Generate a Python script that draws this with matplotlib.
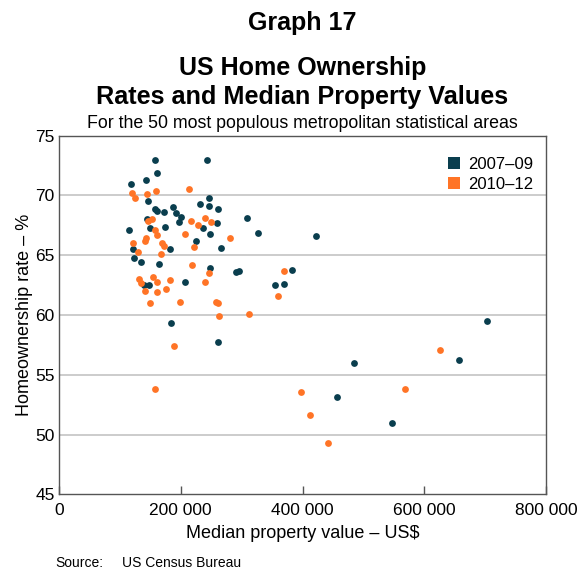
import matplotlib
matplotlib.use("Agg")
import matplotlib.pyplot as plt
from matplotlib.ticker import FuncFormatter
from matplotlib.lines import Line2D

plt.rcParams['font.family'] = ['Liberation Sans', 'DejaVu Sans']

# 2007-09: median property value (US$), home ownership rate (%)
x_0709 = [158500, 242600, 161500, 118300, 142100, 145400, 247200, 231100, 246900, 262000,
          186800, 157700, 160200, 172000, 192500, 199900, 196800, 145100, 259600, 308300,
          114200, 149200, 173800, 237000, 327400, 247600, 225400, 266600, 182300, 121200,
          122900, 134700, 164300, 247600, 290800, 296500, 382300, 355600, 370400, 207300,
          148200, 140100, 183700, 262000, 422500, 702600, 656600, 484600, 456200, 547000]
y_0709 = [73.0, 73.0, 71.9, 71.0, 71.3, 69.5, 69.8, 69.3, 69.1, 68.9,
          69.0, 68.9, 68.7, 68.6, 68.5, 68.2, 67.8, 68.0, 67.7, 68.1,
          67.1, 67.3, 67.4, 67.3, 66.9, 66.8, 66.2, 65.6, 65.5, 65.5,
          64.8, 64.4, 64.3, 63.9, 63.6, 63.7, 63.8, 62.5, 62.6, 62.8,
          62.5, 62.5, 59.3, 57.7, 66.6, 59.5, 56.2, 56.0, 53.1, 51.0]

# 2010-12
x_1012 = [119900, 124500, 144100, 158900, 213200, 147000, 152800, 216500, 239800, 250500,
          228000, 157200, 160500, 206200, 142600, 140900, 121200, 168900, 172500, 280100,
          222300, 130300, 167600, 219000, 245900, 131400, 134700, 155200, 161800, 182000,
          239800, 140800, 160200, 175000, 149500, 198400, 257400, 261200, 262300, 312600,
          368800, 360100, 188100, 157200, 625400, 568900, 397000, 411800, 441400]
y_1012 = [70.2, 69.8, 70.1, 70.4, 70.5, 67.9, 68.0, 67.9, 68.1, 67.8,
          67.5, 67.1, 66.7, 66.8, 66.4, 66.2, 66.0, 66.0, 65.8, 66.4,
          65.7, 65.3, 65.1, 64.2, 63.5, 63.0, 62.7, 63.2, 62.8, 62.9,
          62.8, 62.0, 61.9, 62.2, 61.0, 61.1, 61.1, 61.0, 59.9, 60.1,
          63.7, 61.6, 57.4, 53.8, 57.1, 53.8, 53.6, 51.6, 49.3]

series_labels = ['2007–09', '2010–12']
x_ticks = [0, 200000, 400000, 600000, 800000]
y_ticks = [45, 50, 55, 60, 65, 70, 75]

c_dark = '#0a3e4e'
c_orange = '#ff7426'

fig = plt.figure(figsize=(5.79, 5.74), dpi=100)
ax = fig.add_axes([59/579, 1 - 494.3/574, (546 - 59)/579, (494.3 - 135.7)/574])

ax.scatter(x_0709, y_0709, s=24, color=c_dark, linewidths=0, zorder=3)
ax.scatter(x_1012, y_1012, s=24, color=c_orange, linewidths=0, zorder=3)

ax.set_xlim(0, 800000)
ax.set_ylim(45, 75)
ax.set_xticks(x_ticks)
ax.set_yticks(y_ticks)

def fmt(v, pos):
    v = int(round(v))
    return f"{v:,}".replace(",", " ")

ax.xaxis.set_major_formatter(FuncFormatter(fmt))
ax.tick_params(axis='x', direction='in', length=6, width=1, color='#555555',
               labelsize=12.5, pad=6)
ax.tick_params(axis='y', length=0, labelsize=12.5, pad=3)

for y in [50, 55, 60, 65, 70]:
    ax.axhline(y, color='#c4c4c4', linewidth=1.2, zorder=1)

for sp in ax.spines.values():
    sp.set_color('#555555')
    sp.set_linewidth(1.0)

ax.set_xlabel('Median property value – US$', fontsize=13, labelpad=5)
ax.set_ylabel('Homeownership rate – %', fontsize=13, labelpad=2)

handles = [Line2D([], [], marker='s', linestyle='none', markersize=9,
                  color=c_dark, markeredgewidth=0),
           Line2D([], [], marker='s', linestyle='none', markersize=9,
                  color=c_orange, markeredgewidth=0)]
ax.legend(handles, series_labels, loc='upper right', frameon=False, fontsize=12,
          handlelength=0.8, handletextpad=0.4, borderaxespad=0.3, labelspacing=0.3,
          bbox_to_anchor=(0.997, 0.973))

fig.text(0.522, 1 - 23/574, 'Graph 17', ha='center', va='center', fontsize=18, fontweight='bold')
fig.text(0.522, 1 - 68/574, 'US Home Ownership', ha='center', va='center', fontsize=18, fontweight='bold')
fig.text(0.522, 1 - 97/574, 'Rates and Median Property Values', ha='center', va='center', fontsize=18.2, fontweight='bold')
fig.text(0.522, 1 - 124/574, 'For the 50 most populous metropolitan statistical areas', ha='center', va='center', fontsize=12.8)

fig.text(55/579, 1 - 563/574, 'Source:', ha='left', va='center', fontsize=10)
fig.text(122/579, 1 - 563/574, 'US Census Bureau', ha='left', va='center', fontsize=10)

fig.savefig('out.png', dpi=100)
